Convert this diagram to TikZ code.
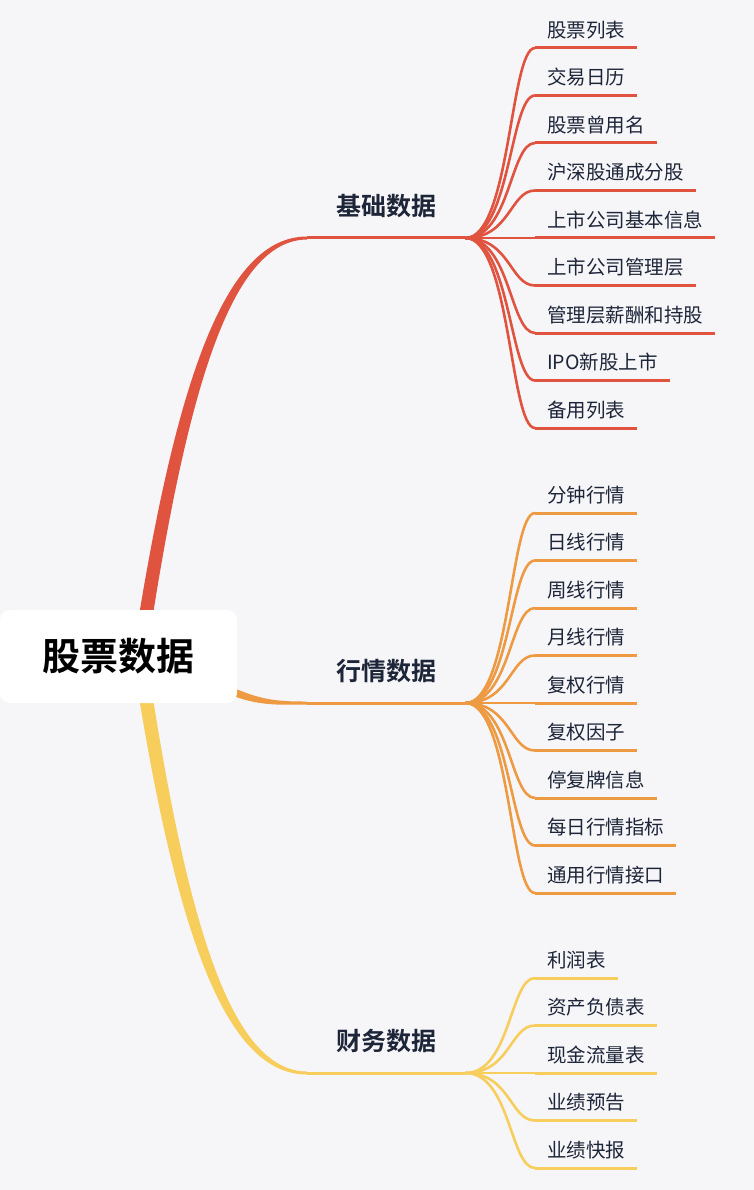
\documentclass[tikz,border=0pt]{standalone}
\usepackage{fontspec}
\newfontfamily\cjk{Noto Sans CJK SC}[BoldFont={Noto Sans CJK SC Bold}]
\usetikzlibrary{positioning, calc, backgrounds}
\definecolor{bgc}{HTML}{F6F6F9}
\definecolor{cred}{HTML}{E0533F}
\definecolor{corange}{HTML}{EE9A43}
\definecolor{cyellow}{HTML}{F7CD5B}
\definecolor{ink}{HTML}{1D2538}

\begin{document}
\begin{tikzpicture}[x=1pt, y=-1pt,
    leaf/.style={anchor=south west, inner xsep=12pt, inner ysep=0pt, text depth=10.5pt, text=ink, font=\cjk\fontsize{19.5}{20}\selectfont},
    topic/.style={anchor=south west, minimum width=158pt, inner sep=0pt, text depth=22pt, text=ink, font=\cjk\bfseries\fontsize{25}{26}\selectfont},
    uline/.style={line width=3pt},
    twig/.style={line width=2.6pt}]
                    \useasboundingbox (0,0) rectangle (754,1190);
                    \begin{pgfonlayer}{background}
                    \fill[bgc] (0,0) rectangle (754,1190);
                    \end{pgfonlayer}

                    \node[fill=white, rounded corners=10pt, minimum width=237pt, minimum height=93pt, inner sep=0pt,
                          font=\cjk\bfseries\fontsize{38}{40}\selectfont] (root) at (118.5,656.5) {\raisebox{-1pt}{股票数据}};

                    \node[topic] (t1) at (307,238)  {基础数据};
                    \node[topic] (t2) at (307,703)  {行情数据};
                    \node[topic] (t3) at (307,1073) {财务数据};

                    \begin{pgfonlayer}{background}
                    \fill[cred] ($(root)+(14,0)$) .. controls (175,380) and (225,236.5) .. ([yshift=1.5pt]t1.south west)
                        -- ([yshift=-1.5pt]t1.south west) .. controls (232,240) and (187,385) .. ($(root)+(28,0)$) -- cycle;
                    \fill[corange] ($(root)+(80,12)$) .. controls (250,701) and (275,701.5) .. ([yshift=1.5pt]t2.south west)
                        -- ([yshift=-1.5pt]t2.south west) .. controls (270,705) and (245,707) .. ($(root)+(80,22)$) -- cycle;
                    \fill[cyellow] ($(root)+(14,0)$) .. controls (175,933) and (225,1074.5) .. ([yshift=-1.5pt]t3.south west)
                        -- ([yshift=1.5pt]t3.south west) .. controls (232,1071) and (187,928) .. ($(root)+(28,0)$) -- cycle;
                    \end{pgfonlayer}
                    \draw[cred, uline]    (t1.south west) -- (t1.south east);
                    \draw[corange, uline] (t2.south west) -- (t2.south east);
                    \draw[cyellow, uline] (t3.south west) -- (t3.south east);

                    % basic data
                    \node[leaf] (b1) at (535,48)    {股票列表};
                    \node[leaf] (b2) at (535,95.5)  {交易日历};
                    \node[leaf] (b3) at (535,143)   {股票曾用名};
                    \node[leaf] (b4) at (535,190.5) {沪深股通成分股};
                    \node[leaf] (b5) at (535,238)   {上市公司基本信息};
                    \node[leaf] (b6) at (535,285.5) {上市公司管理层};
                    \node[leaf] (b7) at (535,333)   {管理层薪酬和持股};
                    \node[leaf] (b8) at (535,380.5) {IPO新股上市};
                    \node[leaf] (b9) at (535,428)   {备用列表};
                    \foreach \n in {b1,b2,b3,b4,b5,b6,b7,b8,b9} {
                        \draw[cred, twig] (t1.south east) .. controls +(45,0) and +(-25,0) .. (\n.south west);
                        \draw[cred, uline] (\n.south west) -- (\n.south east);
                    }

                    % market data
                    \node[leaf] (m1) at (535,513)   {分钟行情};
                    \node[leaf] (m2) at (535,560.5) {日线行情};
                    \node[leaf] (m3) at (535,608)   {周线行情};
                    \node[leaf] (m4) at (535,655.5) {月线行情};
                    \node[leaf] (m5) at (535,703)   {复权行情};
                    \node[leaf] (m6) at (535,750.5) {复权因子};
                    \node[leaf] (m7) at (535,798)   {停复牌信息};
                    \node[leaf] (m8) at (535,845.5) {每日行情指标};
                    \node[leaf] (m9) at (535,893)   {通用行情接口};
                    \foreach \n in {m1,m2,m3,m4,m5,m6,m7,m8,m9} {
                        \draw[corange, twig] (t2.south east) .. controls +(45,0) and +(-25,0) .. (\n.south west);
                        \draw[corange, uline] (\n.south west) -- (\n.south east);
                    }

                    % financial data
                    \node[leaf] (f1) at (535,978)    {利润表};
                    \node[leaf] (f2) at (535,1025.5) {资产负债表};
                    \node[leaf] (f3) at (535,1073)   {现金流量表};
                    \node[leaf] (f4) at (535,1120.5) {业绩预告};
                    \node[leaf] (f5) at (535,1168)   {业绩快报};
                    \foreach \n in {f1,f2,f3,f4,f5} {
                        \draw[cyellow, twig] (t3.south east) .. controls +(45,0) and +(-25,0) .. (\n.south west);
                        \draw[cyellow, uline] (\n.south west) -- (\n.south east);
                    }
                \end{tikzpicture}
\end{document}
